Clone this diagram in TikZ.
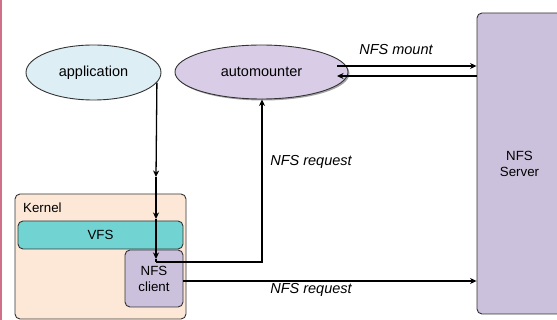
\documentclass[tikz,border=0pt]{standalone}
\usepackage{fontspec}
\setmainfont{Liberation Sans}
\usetikzlibrary{arrows.meta,shapes.geometric,shadows}
\definecolor{appfill}{HTML}{DDEEF5}
\definecolor{autofill}{HTML}{D9CCE6}
\definecolor{lav}{HTML}{CBC1DC}
\definecolor{vfsfill}{HTML}{72D4D2}
\definecolor{kernfill}{HTML}{FDE8D8}
\definecolor{edgepink}{HTML}{CF7088}
\definecolor{bord}{HTML}{333333}
\begin{document}
\begin{tikzpicture}[x=1pt,y=-1pt,
  bigtxt/.style={font=\fontsize{14.5}{17}\selectfont},
  smalltxt/.style={font=\fontsize{13.3}{16}\selectfont},
  ell/.style={ellipse, draw=bord, line width=0.9pt, inner sep=0pt, bigtxt},
  box/.style={rectangle, rounded corners=5pt, draw=bord, line width=0.9pt, inner sep=0pt, smalltxt, align=center},
  conn/.style={line width=1.3pt, black},
  arr/.style={conn, -{Stealth[length=6.5pt,width=6pt,inset=2pt]}},
  lbl/.style={bigtxt, font=\fontsize{14.5}{17}\selectfont\itshape}
]
\useasboundingbox (0,0) rectangle (557,320);
\clip (0,0) rectangle (557,320);
\fill[edgepink] (0,0) rectangle (2,320);

% nodes
\node[ell, fill=appfill, minimum width=135pt, minimum height=55pt] (app) at (93.5,72.5) {application};
\node[ell, fill=autofill, minimum width=173pt, minimum height=54pt,
  drop shadow={shadow xshift=1.5pt, shadow yshift=-1.5pt, fill=black!60, opacity=0.6}] (auto) at (261.5,72) {automounter};
\node[box, fill=lav, minimum width=85pt, minimum height=301pt] (server) at (519.5,163.5) {NFS\\Server};
\node[box, fill=kernfill, minimum width=171pt, minimum height=125pt] (kernel) at (100.5,256.5) {};
\node[smalltxt, anchor=west, inner sep=0pt] (klabel) at (23,208) {Kernel};
\node[box, fill=vfsfill, minimum width=165pt, minimum height=28pt] (vfs) at (100.5,235) {VFS};
\node[box, fill=lav, minimum width=58pt, minimum height=57pt] (client) at (154,278.5) {NFS\\client};

% coordinates
\coordinate (c1) at (156,177);
\coordinate (c2) at (156,219);
\coordinate (c3) at (156,259);
\coordinate (c4) at (156,262);
\coordinate (c5) at (262,262);
\coordinate (m1) at (337,66);
\coordinate (m2) at (337,76);

% connectors
\draw[arr] (app.-9.45) -- (c1);
\draw[arr] (c1) -- (c2);
\draw[arr] (c2) -- (c3);
\draw[conn] (c3) -- (c4);
\draw[arr] (c4) -- (c5) -- (c5 |- auto.south);
\draw[arr] (m1) -- (m1 -| server.west);
\draw[arr] (m2 -| server.west) -- (m2);
\draw[arr] ([yshift=-2.5pt]client.east) -- ([yshift=-2.5pt]client.east -| server.west);

% labels
\node[lbl] (lmount) at (396,50) {NFS mount};
\node[lbl] (lreq1) at (311,162) {NFS request};
\node[lbl] (lreq2) at (311,290) {NFS request};
\end{tikzpicture}
\end{document}
